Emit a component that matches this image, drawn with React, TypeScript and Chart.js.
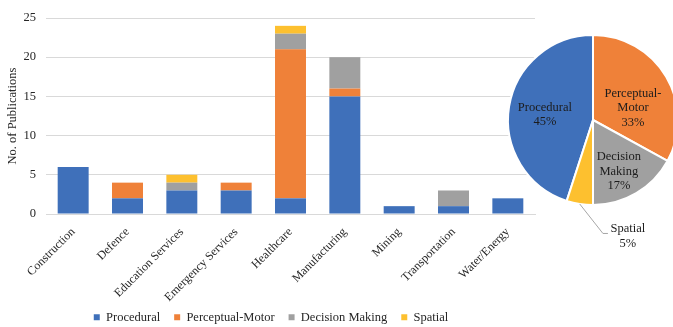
import React, { useEffect, useRef } from 'react';
import { Chart, registerables } from 'chart.js';

Chart.register(...registerables);

// ---------------- data ----------------
const categories = [
  'Construction',
  'Defence',
  'Education Services',
  'Emergency Services',
  'Healthcare',
  'Manufacturing',
  'Mining',
  'Transportation',
  'Water/Energy',
];
const procedural = [6, 2, 3, 3, 2, 15, 1, 1, 2];
const perceptualMotor = [0, 2, 0, 1, 19, 1, 0, 0, 0];
const decisionMaking = [0, 0, 1, 0, 2, 4, 0, 2, 0];
const spatial = [0, 0, 1, 0, 1, 0, 0, 0, 0];
const seriesNames = ['Procedural', 'Perceptual-Motor', 'Decision Making', 'Spatial'];
const yTickValues = [0, 5, 10, 15, 20, 25];
const yTitle = 'No. of Publications';

const pieShares = [45, 33, 17, 5];
const pieLabelLines = [['Procedural'], ['Perceptual-', 'Motor'], ['Decision', 'Making'], ['Spatial']];

// ---------------- styles ----------------
const COLORS = ['#3F70BA', '#EF8139', '#A0A0A0', '#FDC02F'];
const FONT = '"Liberation Serif", "Times New Roman", serif';
const TEXT = '#262626';
const GRID = '#d9d9d9';

// pie label placement (radius factor, angle shift in degrees)
const PIE_LABEL_RADIUS = [0.57, 0.49, 0.68];
const PIE_LABEL_ANGLE = [-2.5, 14, 4];
const LEGEND_TOP = 297;
const LEGEND_CX = 271;

const legendShift = {
  id: 'legendShift',
  afterLayout(chart: any) {
    const lg = chart.legend;
    if (!lg) return;
    lg.top = LEGEND_TOP;
    lg.bottom = LEGEND_TOP + 50;
    lg.left = LEGEND_CX - 300;
    lg.right = LEGEND_CX + 300;
  },
};

const pieLabelPlugin = {
  id: 'pieLabels',
  afterDraw(chart: any) {
    const ctx = chart.ctx;
    const arcs = chart.getDatasetMeta(0).data;
    ctx.save();
    ctx.font = '12.5px ' + FONT;
    ctx.fillStyle = '#1c1c1c';
    ctx.textAlign = 'center';
    ctx.textBaseline = 'middle';
    const lh = 14.5;
    arcs.forEach((arc: any, i: number) => {
      const { x, y, startAngle, endAngle, outerRadius } = arc.getProps(
        ['x', 'y', 'startAngle', 'endAngle', 'outerRadius'],
        true
      );
      const lines = [...pieLabelLines[i], pieShares[i] + '%'];
      const mid = (startAngle + endAngle) / 2;
      if (i < 3) {
        const a = mid + (PIE_LABEL_ANGLE[i] * Math.PI) / 180;
        const r = outerRadius * PIE_LABEL_RADIUS[i];
        const cx = x + Math.cos(a) * r;
        const cy = y + Math.sin(a) * r;
        lines.forEach((t, k) => ctx.fillText(t, cx, cy + (k - (lines.length - 1) / 2) * lh));
      } else {
        const sx = x + Math.cos(mid) * outerRadius;
        const sy = y + Math.sin(mid) * outerRadius;
        const ea = (85 * Math.PI) / 180;
        const ex = x + Math.cos(ea) * outerRadius * 1.34;
        const ey = y + Math.sin(ea) * outerRadius * 1.34;
        ctx.strokeStyle = '#a6a6a6';
        ctx.lineWidth = 1;
        ctx.beginPath();
        ctx.moveTo(sx, sy);
        ctx.lineTo(ex, ey);
        ctx.lineTo(ex + 5, ey);
        ctx.stroke();
        const tx = ex + 25;
        const ty = ey + 3;
        lines.forEach((t, k) => ctx.fillText(t, tx, ty + (k - (lines.length - 1) / 2) * lh));
      }
    });
    ctx.restore();
  },
};

export default function App() {
  const barRef = useRef<HTMLCanvasElement>(null);
  const pieRef = useRef<HTMLCanvasElement>(null);

  useEffect(() => {
    document.body.style.margin = '0';
    Chart.defaults.font.family = FONT;
    Chart.defaults.font.size = 12.5;
    Chart.defaults.color = TEXT;

    const seriesData = [procedural, perceptualMotor, decisionMaking, spatial];
    const bar = new Chart(barRef.current!, {
      type: 'bar',
      data: {
        labels: categories,
        datasets: seriesNames.map((name, i) => ({
          label: name,
          data: seriesData[i],
          backgroundColor: COLORS[i],
          borderWidth: 0,
          categoryPercentage: 1,
          barPercentage: 0.57,
        })),
      },
      options: {
        responsive: false,
        animation: false,
        layout: { padding: { left: 0, right: 138, top: 18, bottom: 0 } },
        plugins: {
          tooltip: { enabled: false },
          legend: {
            position: 'bottom',
            maxHeight: 1,
            labels: {
              boxWidth: 6,
              boxHeight: 6,
              padding: 14,
              color: TEXT,
              font: { size: 12.5, family: FONT },
            },
          },
        },
        scales: {
          x: {
            stacked: true,
            grid: { display: false, drawTicks: false },
            border: { display: true, color: GRID, width: 1 },
            ticks: { minRotation: 45, maxRotation: 45, padding: 11, autoSkip: false, color: TEXT, font: { size: 12, family: FONT } },
            afterFit(scale: any) {
              scale.height = 112;
            },
          },
          y: {
            stacked: true,
            min: 0,
            max: 25,
            afterBuildTicks(scale: any) {
              scale.ticks = yTickValues.map((v) => ({ value: v }));
            },
            grid: { color: GRID, drawTicks: false },
            border: { display: false },
            ticks: { padding: 10, color: TEXT, font: { size: 12.5, family: FONT } },
            title: { display: true, text: yTitle, color: TEXT, padding: 5, font: { size: 12.5, family: FONT } },
            afterFit(scale: any) {
              scale.width = 46;
            },
          },
        },
      },
      plugins: [legendShift],
    });

    const pie = new Chart(pieRef.current!, {
      type: 'pie',
      data: {
        labels: seriesNames,
        datasets: [
          {
            data: pieShares,
            backgroundColor: COLORS,
            borderColor: '#ffffff',
            borderWidth: 2,
          },
        ],
      },
      options: {
        responsive: false,
        animation: false,
        rotation: -(pieShares[0] / 100) * 360,
        layout: { padding: { left: 24, right: 24, top: 24, bottom: 64 } },
        plugins: { legend: { display: false }, tooltip: { enabled: false } },
      },
      plugins: [pieLabelPlugin],
    });

    return () => {
      bar.destroy();
      pie.destroy();
    };
  }, []);

  return (
    <div style={{ position: 'relative', width: 673, height: 327, overflow: 'hidden', background: '#fff' }}>
      <canvas ref={barRef} width={673} height={327} style={{ position: 'absolute', left: 0, top: 0 }} />
      <canvas ref={pieRef} width={220} height={260} style={{ position: 'absolute', left: 483, top: 10 }} />
    </div>
  );
}
